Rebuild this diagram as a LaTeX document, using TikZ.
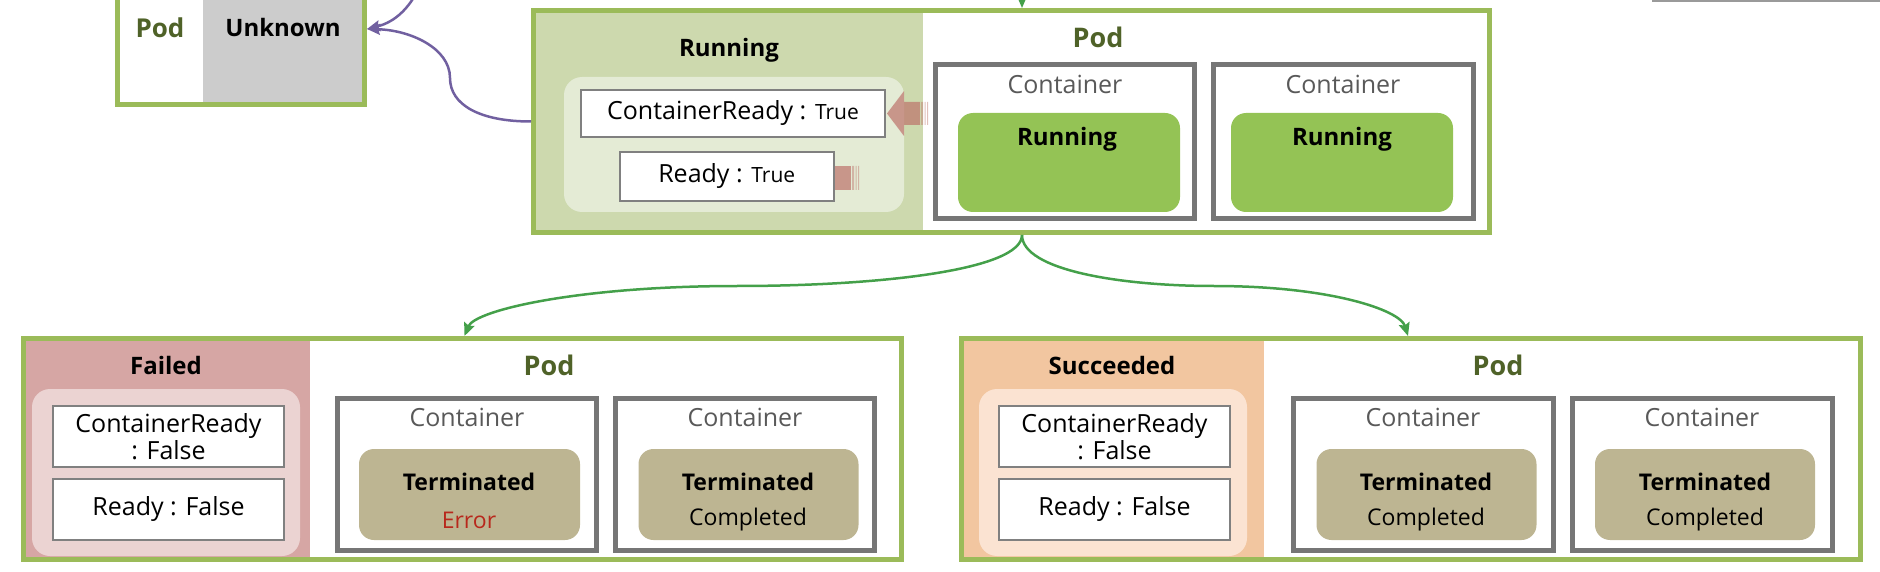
\documentclass[tikz,border=0pt]{standalone}
\usepackage{fontspec}
\setmainfont{Open Sans}
\usetikzlibrary{arrows.meta,fit}
\definecolor{podgreen}{HTML}{9BBB59}
\definecolor{podtext}{HTML}{4F6228}
\definecolor{runregion}{HTML}{CDD9AE}
\definecolor{runpanel}{HTML}{E4EBD5}
\definecolor{unkgray}{HTML}{CCCCCC}
\definecolor{failregion}{HTML}{D6A6A4}
\definecolor{failpanel}{HTML}{EBD3D2}
\definecolor{succregion}{HTML}{F2C6A0}
\definecolor{succpanel}{HTML}{FBE3D2}
\definecolor{contgray}{HTML}{767676}
\definecolor{condgray}{HTML}{808080}
\definecolor{runfill}{HTML}{94C355}
\definecolor{termfill}{HTML}{BDB592}
\definecolor{errred}{HTML}{B8281C}
\definecolor{purplearr}{HTML}{7160A0}
\definecolor{greenarr}{HTML}{44A04A}
\definecolor{conttext}{HTML}{595959}
\definecolor{blockc}{RGB}{189,115,107}
\definecolor{topline}{HTML}{9A9A9A}
\begin{document}
\begin{tikzpicture}[x=1pt,y=-1pt,
  podbox/.style={draw=podgreen,line width=5pt,inner sep=0pt,outer sep=2.5pt,rectangle},
  panelbox/.style={rounded corners=18pt,inner sep=0pt,draw=none},
  condbox/.style={draw=condgray,line width=2pt,fill=white,inner sep=0pt,align=center,
    font=\fontsize{25}{27}\selectfont},
  contbox/.style={draw=contgray,line width=5pt,inner sep=0pt},
  statebox/.style={rounded corners=15pt,inner sep=0pt,draw=none},
  podtitle/.style={font=\bfseries\fontsize{27}{30}\selectfont,text=podtext,inner sep=0pt},
  statetitle/.style={font=\bfseries\fontsize{24}{28}\selectfont,text=black,inner sep=0pt},
  contlabel/.style={font=\fontsize{25}{28}\selectfont,text=conttext,inner sep=0pt},
  statuslabel/.style={font=\bfseries\fontsize{23}{26}\selectfont,text=black,inner sep=0pt},
  reasonlabel/.style={font=\fontsize{23}{26}\selectfont,inner sep=0pt},
  garrow/.style={draw=greenarr,line width=2.5pt,-{Stealth[length=13pt,width=11pt,inset=2pt]}},
  parrow/.style={draw=purplearr,line width=2.5pt,-{Stealth[length=13pt,width=11pt,inset=2pt]}},
  blk/.style={fill=blockc,fill opacity=0.7},
  blkstripe/.style={fill=blockc,fill opacity=0.45}
]
\useasboundingbox (0,0) rectangle (1880,572);

% fragment line at top right
\draw[topline,line width=2pt] (1652,1) -- (1880,1);

% state regions
\fill[unkgray] (203,-49) rectangle (364.5,104.5);
\fill[runregion] (533.5,10.5) rectangle (923,232.5);
\fill[failregion] (23,338.5) rectangle (310,559.5);
\fill[succregion] (961.5,338.5) rectangle (1264,559.5);

% pod frames
\node[podbox,minimum width=247pt,minimum height=151pt] (unk) at (241,29) {};
\node[podbox,minimum width=956pt,minimum height=222pt] (run) at (1011.5,121.5) {};
\node[podbox,minimum width=878.5pt,minimum height=221pt] (fail) at (462.25,449) {};
\node[podbox,minimum width=899pt,minimum height=221pt] (succ) at (1411,449) {};

% Unknown pod texts
\node[podtitle,font=\bfseries\fontsize{26}{30}\selectfont] (unkpod) at (160,28) {Pod};
\node[statetitle] (unkstate) at (283,28) {Unknown};

% condition panels
\node[panelbox,fill=runpanel,fit={(564,77) (904,212)}] (runp) {};
\node[panelbox,fill=failpanel,fit={(32,389) (300,556)}] (failp) {};
\node[panelbox,fill=succpanel,fit={(979,389) (1247,556)}] (succp) {};

% block arrows (running)
\fill[blk] (887,113.5) -- (904,91) -- (904,102) -- (920,102) -- (920,125) -- (904,125) -- (904,136) -- cycle;
\fill[blkstripe] (921,102) rectangle (923,125) (924.5,102) rectangle (925.5,125) (927,102) rectangle (928,125);
\fill[blk] (830,166) rectangle (851,190);
\fill[blkstripe] (852,166) rectangle (854,190) (855.5,166) rectangle (856.5,190) (858,166) rectangle (859,190);

% condition boxes
\node[condbox,minimum width=304pt,minimum height=47pt] (runcr) at (733,113.5)
  {ContainerReady : {\fontsize{21}{24}\selectfont True}};
\node[condbox,minimum width=213.5pt,minimum height=49pt] (runrd) at (726.75,176.5)
  {Ready : {\fontsize{21}{24}\selectfont True}};
\node[condbox,minimum width=231pt,minimum height=61pt] (failcr) at (168.5,436.5)
  {ContainerReady\\: False};
\node[condbox,minimum width=231pt,minimum height=61pt] (failrd) at (168.5,509.5)
  {Ready : False};
\node[condbox,minimum width=231pt,minimum height=61pt] (succcr) at (1114.5,436.5)
  {ContainerReady\\: False};
\node[condbox,minimum width=231pt,minimum height=61pt] (succrd) at (1114.5,509.5)
  {Ready : False};

% state titles and pod titles
\node[statetitle] (runstate) at (729,50) {Running};
\node[podtitle] (runpod) at (1098,37) {Pod};
\node[statetitle] (failstate) at (166,365) {Failed};
\node[podtitle] (failpod) at (549,365) {Pod};
\node[statetitle] (succstate) at (1112,365) {Succeeded};
\node[podtitle] (succpod) at (1498,365) {Pod};

% containers
\node[contbox,minimum width=259.5pt,minimum height=154pt] (rc1) at (1064.75,141.5) {};
\node[contbox,minimum width=260pt,minimum height=154pt] (rc2) at (1343.5,141.5) {};
\node[contbox,minimum width=259pt,minimum height=152pt] (fc1) at (466.5,474.5) {};
\node[contbox,minimum width=259pt,minimum height=152pt] (fc2) at (745,474.5) {};
\node[contbox,minimum width=260pt,minimum height=152pt] (sc1) at (1423.5,474.5) {};
\node[contbox,minimum width=260pt,minimum height=152pt] (sc2) at (1702,474.5) {};

\node[contlabel] (rc1l) at (1065,84) {Container};
\node[contlabel] (rc2l) at (1343,84) {Container};
\node[contlabel] (fc1l) at (467,417) {Container};
\node[contlabel] (fc2l) at (745,417) {Container};
\node[contlabel] (sc1l) at (1423,417) {Container};
\node[contlabel] (sc2l) at (1702,417) {Container};

% container states
\node[statebox,fill=runfill,minimum width=222pt,minimum height=99pt] (rs1) at (1069,162.5) {};
\node[statebox,fill=runfill,minimum width=222pt,minimum height=99pt] (rs2) at (1342,162.5) {};
\node[statebox,fill=termfill,minimum width=221pt,minimum height=91pt] (fs1) at (469.5,494.5) {};
\node[statebox,fill=termfill,minimum width=220pt,minimum height=91pt] (fs2) at (748.5,494.5) {};
\node[statebox,fill=termfill,minimum width=220pt,minimum height=91pt] (ss1) at (1426.5,494.5) {};
\node[statebox,fill=termfill,minimum width=220pt,minimum height=91pt] (ss2) at (1705,494.5) {};

\node[statuslabel,font=\bfseries\fontsize{24}{27}\selectfont] (rs1l) at (1067,139) {Running};
\node[statuslabel,font=\bfseries\fontsize{24}{27}\selectfont] (rs2l) at (1342,139) {Running};
\node[statuslabel] (fs1l) at (469,482) {Terminated};
\node[reasonlabel,text=errred] (fs1r) at (469,520) {Error};
\node[statuslabel] (fs2l) at (748,482) {Terminated};
\node[reasonlabel] (fs2r) at (748,520) {Completed};
\node[statuslabel] (ss1l) at (1426,482) {Terminated};
\node[reasonlabel] (ss1r) at (1426,520) {Completed};
\node[statuslabel] (ss2l) at (1705,482) {Terminated};
\node[reasonlabel] (ss2r) at (1705,520) {Completed};

% connectors
\coordinate (topin) at (1022,-30);
\draw[garrow] (topin) -- ([xshift=10.5pt]run.north);
\draw[garrow] ([xshift=10.5pt]run.south) .. controls (1022,270) and (880,286) .. (737,286)
  .. controls (580,286) and (475,310) .. ([xshift=2.25pt]fail.north);
\draw[garrow] ([xshift=10.5pt]run.south) .. controls (1022,270) and (1120,286) .. (1214,286)
  .. controls (1330,286) and (1400,310) .. ([xshift=-3pt]succ.north);

\draw[parrow] (run.west) .. controls (480,121.5) and (450,105) .. (450,78)
  .. controls (450,48) and (410,30) .. (unk.east);
\coordinate (purpin) at (425,-25);
\draw[parrow] (purpin) .. controls (412,8) and (395,22) .. (unk.east);
\end{tikzpicture}
\end{document}
